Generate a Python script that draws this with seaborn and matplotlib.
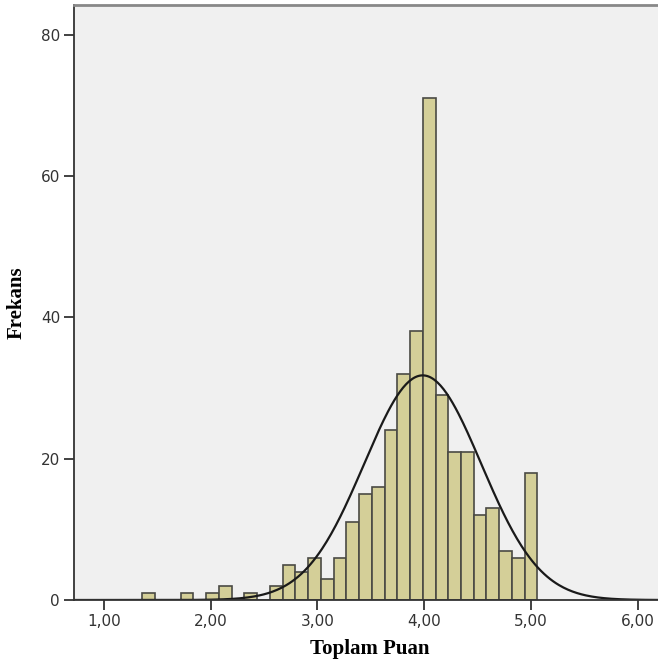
import numpy as np
import pandas as pd
import matplotlib
matplotlib.use("Agg")
import matplotlib.pyplot as plt
import seaborn as sns

# histogram bin centres and counts (31 bins)
bin_centers = np.linspace(1.42, 5.00, 31)
bin_width = 0.1193
counts = [1, 0, 0, 1, 0, 1, 2, 0, 1, 0, 2, 5, 4, 6, 3, 6, 11, 15, 16, 24,
          32, 38, 71, 29, 21, 21, 12, 13, 7, 6, 18]
mean_val = 3.985
sd_val = 0.548
x_ticks = [1, 2, 3, 4, 5, 6]
x_tick_labels = ["1,00", "2,00", "3,00", "4,00", "5,00", "6,00"]
y_ticks = [0, 20, 40, 60, 80]

df = pd.DataFrame({"Toplam Puan": bin_centers, "Frekans": counts})
edges = list(np.append(bin_centers - bin_width / 2, bin_centers[-1] + bin_width / 2))

sns.set_style("white")
plt.rcParams["font.family"] = ["DejaVu Sans"]
fig = plt.figure(figsize=(6.58, 6.70), dpi=100)
ax = fig.add_axes([74 / 658, 70 / 670, 1 - 74 / 658 + 0.01, 595 / 670])
ax.set_facecolor("#F0F0F0")

sns.histplot(data=df, x="Toplam Puan", weights="Frekans", bins=edges,
             color="#D4CF98", edgecolor="#4A4A44", linewidth=1.2, alpha=1,
             ax=ax)

# normal curve scaled to counts
n_total = sum(counts)
xs = np.linspace(0.7, 6.3, 400)
ys = n_total * bin_width / (sd_val * np.sqrt(2 * np.pi)) * np.exp(-(xs - mean_val) ** 2 / (2 * sd_val ** 2))
sns.lineplot(x=xs, y=ys, color="#1A1A1A", linewidth=1.6, ax=ax)

ax.set_xlim(0.72, 6.25)
ax.set_ylim(0, 84.2)
ax.set_xticks(x_ticks)
ax.set_xticklabels(x_tick_labels)
ax.set_yticks(y_ticks)
ax.tick_params(axis="both", bottom=True, left=True, direction="out",
               length=7, width=1.3, color="#333333",
               labelsize=11, labelcolor="#333333", pad=3)

for s in ["left", "bottom"]:
    ax.spines[s].set_color("#333333")
    ax.spines[s].set_linewidth(1.3)
ax.spines["top"].set_color("#888888")
ax.spines["top"].set_linewidth(2)
ax.spines["right"].set_visible(False)

ax.set_xlabel("Toplam Puan", fontfamily="Liberation Serif", fontweight="bold",
              fontsize=15, color="black", labelpad=7)
ax.set_ylabel("Frekans", fontfamily="Liberation Serif", fontweight="bold",
              fontsize=15, color="black", labelpad=10)

plt.savefig("out.png", dpi=100)
